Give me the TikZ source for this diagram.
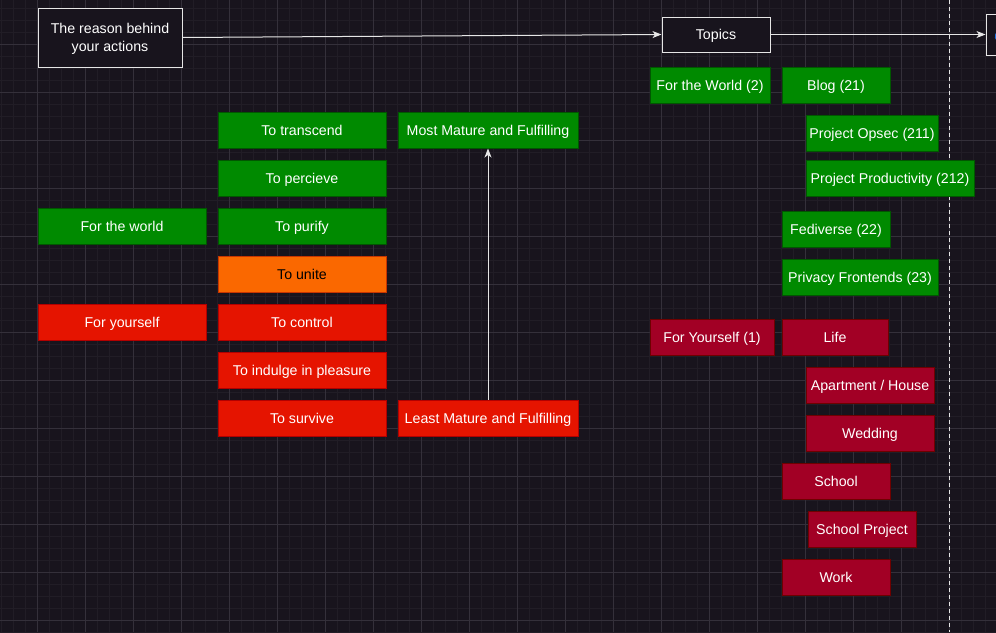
\documentclass[tikz,border=0pt]{standalone}
\usepackage{fontspec}
\setmainfont{Liberation Sans}
\usetikzlibrary{arrows.meta}
\definecolor{bg}{HTML}{18141D}
\definecolor{gridminor}{HTML}{211D26}
\definecolor{gridmajor}{HTML}{34303A}
\definecolor{gfill}{HTML}{008A00}
\definecolor{gline}{HTML}{005700}
\definecolor{rfill}{HTML}{E51400}
\definecolor{rline}{HTML}{B20000}
\definecolor{ofill}{HTML}{FA6800}
\definecolor{oline}{HTML}{C73500}
\definecolor{cfill}{HTML}{A20025}
\definecolor{cline}{HTML}{6F0000}
\definecolor{wline}{HTML}{E6E6E6}
\definecolor{linkblue}{HTML}{1E6FE0}
\begin{document}
\begin{tikzpicture}[x=1pt,y=-1pt,
  every node/.style={font=\fontsize{14.2}{18}\selectfont, inner sep=0pt, anchor=center},
  minorg/.style={draw=gridminor, line width=0.7pt},
  majorg/.style={draw=gridmajor, line width=0.7pt},
  base/.style={draw, line width=1pt, text=white, minimum height=36pt},
  oneline/.style={base, text height=11.5pt, text depth=1.5pt},
  gbox/.style={oneline, fill=gfill, draw=gline},
  rbox/.style={oneline, fill=rfill, draw=rline},
  obox/.style={oneline, fill=ofill, draw=oline, text=black},
  cbox/.style={oneline, fill=cfill, draw=cline},
  wbox/.style={base, fill=bg, draw=wline, align=center},
  arr/.style={draw=wline, line width=1pt, -{Stealth[length=9pt,width=7pt,inset=2.5pt]}}
]
\useasboundingbox (0,0) rectangle (996,632);
\fill[bg] (0,0) rectangle (996,632);
% grid
\foreach \x in {1.3,13.3,...,996} \draw[minorg] (\x,0) -- (\x,632);
\foreach \y in {8,20,...,632} \draw[minorg] (0,\y) -- (996,\y);
\foreach \x in {37.3,85.3,...,996} \draw[majorg] (\x,0) -- (\x,632);
\foreach \y in {44,92,...,632} \draw[majorg] (0,\y) -- (996,\y);

% dashed divider
\draw[wline, line width=1pt, dash pattern=on 4pt off 3pt] (949,0) -- (949,632);

% header boxes
\node[wbox, minimum width=144pt, minimum height=59pt] (reason) at (110,37.5) {};
\node[text=white, align=center] (reasontext) at (110,39) {The reason behind\\your actions};
\node[wbox, text height=11.5pt, text depth=1.5pt, minimum width=108pt, minimum height=35pt] (topics) at (716,34.5) {Topics};
\begin{scope}
\clip (0,0) rectangle (996,632);
\node[wbox, minimum width=120pt, minimum height=41pt] (next) at (1046,34.5) {};
\draw[linkblue, line width=2pt] (998,32) arc[start angle=130, end angle=230, radius=6pt];
\end{scope}

\draw[arr] (reason.east) -- (topics.west);
\draw[arr] (topics.east) -- (next.west);

% left column
\node[gbox, minimum width=168pt] (forworld) at (122,226) {For the world};
\node[rbox, minimum width=168pt] (foryourself) at (122,322) {For yourself};

% second column
\node[gbox, minimum width=168pt] (transcend) at (302,130) {To transcend};
\node[gbox, minimum width=168pt] (percieve) at (302,178) {To percieve};
\node[gbox, minimum width=168pt] (purify) at (302,226) {To purify};
\node[obox, minimum width=168pt] (unite) at (302,274) {To unite};
\node[rbox, minimum width=168pt] (control) at (302,322) {To control};
\node[rbox, minimum width=168pt] (indulge) at (302,370) {To indulge in pleasure};
\node[rbox, minimum width=168pt] (survive) at (302,418) {To survive};

% third column
\node[gbox, minimum width=180pt] (most) at (488,130) {Most Mature and Fulfilling};
\node[rbox, minimum width=180pt] (least) at (488,418) {Least Mature and Fulfilling};
\draw[arr] (least.north) -- (most.south);

% topics tree
\node[gbox, minimum width=120pt] (fw2) at (710,85) {For the World (2)};
\node[gbox, minimum width=108pt] (blog) at (836,85) {Blog (21)};
\node[gbox, minimum width=132pt] (opsec) at (872,133) {Project Opsec (211)};
\node[gbox, minimum width=168pt] (prod) at (890,178) {Project Productivity (212)};
\node[gbox, minimum width=108pt] (fedi) at (836,229) {Fediverse (22)};
\node[gbox, minimum width=156pt] (priv) at (860,277) {Privacy Frontends (23)};

\node[cbox, minimum width=124pt] (fy1) at (712,337) {For Yourself (1)};
\node[cbox, minimum width=106pt] (life) at (835,337) {Life};
\node[cbox, minimum width=128pt] (apt) at (870,385) {Apartment / House};
\node[cbox, minimum width=128pt] (wed) at (870,433) {Wedding};
\node[cbox, minimum width=108pt] (school) at (836,481) {School};
\node[cbox, minimum width=108pt] (schoolproj) at (862,529) {School Project};
\node[cbox, minimum width=108pt] (work) at (836,577) {Work};
\end{tikzpicture}
\end{document}
